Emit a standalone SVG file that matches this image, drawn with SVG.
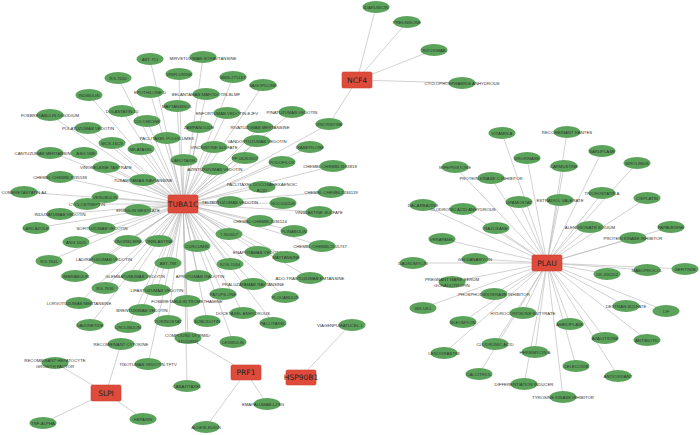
<svg xmlns="http://www.w3.org/2000/svg" width="700" height="435" viewBox="0 0 700 435">
<style>
.e line{stroke:#b4b4b4;stroke-width:0.6}
.n ellipse{fill:#5ba35a}
.n text{font-family:"Liberation Sans",Arial,sans-serif;font-size:4.3px;fill:#333;text-anchor:middle;dominant-baseline:central}
.h rect{fill:#df4b3b;stroke:#c94033;stroke-width:0.6}
.h text{font-family:"DejaVu Sans",sans-serif;font-size:7.5px;fill:#222;text-anchor:middle;dominant-baseline:central}
</style>
<rect width="700" height="435" fill="#fff"/>
<g class="e">
<g transform="translate(183,204)">
<line x1="0" y1="0" x2="-33" y2="-145"/><line x1="0" y1="0" x2="20" y2="-147"/><line x1="0" y1="0" x2="-4" y2="-130"/><line x1="0" y1="0" x2="50" y2="-127"/><line x1="0" y1="0" x2="80" y2="-119"/><line x1="0" y1="0" x2="-65" y2="-126"/><line x1="0" y1="0" x2="-94" y2="-109"/><line x1="0" y1="0" x2="-33" y2="-112"/><line x1="0" y1="0" x2="23" y2="-110"/><line x1="0" y1="0" x2="-6" y2="-98"/><line x1="0" y1="0" x2="-61" y2="-93"/><line x1="0" y1="0" x2="44" y2="-91"/><line x1="0" y1="0" x2="109" y2="-92"/><line x1="0" y1="0" x2="-133" y2="-89"/><line x1="0" y1="0" x2="-36" y2="-83"/><line x1="0" y1="0" x2="16" y2="-77"/><line x1="0" y1="0" x2="77" y2="-77"/><line x1="0" y1="0" x2="-95" y2="-76"/><line x1="0" y1="0" x2="-16" y2="-66"/><line x1="0" y1="0" x2="74" y2="-63"/><line x1="0" y1="0" x2="-71" y2="-61"/><line x1="0" y1="0" x2="127" y2="-57"/><line x1="0" y1="0" x2="31" y2="-57"/><line x1="0" y1="0" x2="-42" y2="-55"/><line x1="0" y1="0" x2="-130" y2="-51"/><line x1="0" y1="0" x2="-100" y2="-51"/><line x1="0" y1="0" x2="1" y2="-44"/><line x1="0" y1="0" x2="62" y2="-46"/><line x1="0" y1="0" x2="99" y2="-42"/><line x1="0" y1="0" x2="150" y2="-38"/><line x1="0" y1="0" x2="-77" y2="-37"/><line x1="0" y1="0" x2="32" y2="-35"/><line x1="0" y1="0" x2="-123" y2="-27"/><line x1="0" y1="0" x2="-40" y2="-24"/><line x1="0" y1="0" x2="79" y2="-17"/><line x1="0" y1="0" x2="148" y2="-12"/><line x1="0" y1="0" x2="-159" y2="-12"/><line x1="0" y1="0" x2="-78" y2="-7"/><line x1="0" y1="0" x2="47" y2="-2"/><line x1="0" y1="0" x2="100" y2="-1"/><line x1="0" y1="0" x2="-96" y2="0"/><line x1="0" y1="0" x2="-45" y2="6"/><line x1="0" y1="0" x2="136" y2="8"/><line x1="0" y1="0" x2="-123" y2="10"/><line x1="0" y1="0" x2="77" y2="17"/><line x1="0" y1="0" x2="-147" y2="24"/><line x1="0" y1="0" x2="-81" y2="24"/><line x1="0" y1="0" x2="111" y2="27"/><line x1="0" y1="0" x2="46" y2="30"/><line x1="0" y1="0" x2="-107" y2="38"/><line x1="0" y1="0" x2="-55" y2="37"/><line x1="0" y1="0" x2="-24" y2="37"/><line x1="0" y1="0" x2="14" y2="42"/><line x1="0" y1="0" x2="139" y2="42"/><line x1="0" y1="0" x2="75" y2="48"/><line x1="0" y1="0" x2="103" y2="53"/><line x1="0" y1="0" x2="-134" y2="57"/><line x1="0" y1="0" x2="-79" y2="55"/><line x1="0" y1="0" x2="-15" y2="59"/><line x1="0" y1="0" x2="47" y2="60"/><line x1="0" y1="0" x2="-108" y2="72"/><line x1="0" y1="0" x2="-48" y2="72"/><line x1="0" y1="0" x2="15" y2="72"/><line x1="0" y1="0" x2="127" y2="74"/><line x1="0" y1="0" x2="70" y2="80"/><line x1="0" y1="0" x2="-78" y2="84"/><line x1="0" y1="0" x2="-26" y2="86"/><line x1="0" y1="0" x2="40" y2="90"/><line x1="0" y1="0" x2="102" y2="93"/><line x1="0" y1="0" x2="4" y2="97"/><line x1="0" y1="0" x2="-104" y2="99"/><line x1="0" y1="0" x2="-41" y2="106"/><line x1="0" y1="0" x2="60" y2="109"/><line x1="0" y1="0" x2="-15" y2="117"/><line x1="0" y1="0" x2="24" y2="117"/><line x1="0" y1="0" x2="90" y2="119"/><line x1="0" y1="0" x2="-93" y2="121"/><line x1="0" y1="0" x2="-55" y2="123"/><line x1="0" y1="0" x2="5" y2="134"/><line x1="0" y1="0" x2="50" y2="138"/><line x1="0" y1="0" x2="-35" y2="160"/><line x1="0" y1="0" x2="4" y2="182"/><line x1="0" y1="0" x2="146" y2="-80"/>
</g>
<g transform="translate(357,80)">
<line x1="0" y1="0" x2="19" y2="-73"/><line x1="0" y1="0" x2="50" y2="-58"/><line x1="0" y1="0" x2="77" y2="-30"/><line x1="0" y1="0" x2="105" y2="3"/><line x1="0" y1="0" x2="-28" y2="44"/>
</g>
<g transform="translate(547,263)">
<line x1="0" y1="0" x2="-45" y2="-130"/><line x1="0" y1="0" x2="20" y2="-131"/><line x1="0" y1="0" x2="-20" y2="-105"/><line x1="0" y1="0" x2="-92" y2="-96"/><line x1="0" y1="0" x2="17" y2="-97"/><line x1="0" y1="0" x2="-56" y2="-85"/><line x1="0" y1="0" x2="-28" y2="-61"/><line x1="0" y1="0" x2="13" y2="-63"/><line x1="0" y1="0" x2="-124" y2="-58"/><line x1="0" y1="0" x2="-84" y2="-54"/><line x1="0" y1="0" x2="-51" y2="-35"/><line x1="0" y1="0" x2="-105" y2="-24"/><line x1="0" y1="0" x2="-72" y2="-4"/><line x1="0" y1="0" x2="55" y2="-112"/><line x1="0" y1="0" x2="90" y2="-100"/><line x1="0" y1="0" x2="55" y2="-70"/><line x1="0" y1="0" x2="100" y2="-65"/><line x1="0" y1="0" x2="43" y2="-36"/><line x1="0" y1="0" x2="124" y2="-36"/><line x1="0" y1="0" x2="86" y2="-25"/><line x1="0" y1="0" x2="100" y2="7"/><line x1="0" y1="0" x2="138" y2="6"/><line x1="0" y1="0" x2="60" y2="11"/><line x1="0" y1="0" x2="-134" y2="0"/><line x1="0" y1="0" x2="-95" y2="19"/><line x1="0" y1="0" x2="-53" y2="31"/><line x1="0" y1="0" x2="-124" y2="45"/><line x1="0" y1="0" x2="79" y2="43"/><line x1="0" y1="0" x2="119" y2="48"/><line x1="0" y1="0" x2="-24" y2="50"/><line x1="0" y1="0" x2="-84" y2="59"/><line x1="0" y1="0" x2="23" y2="61"/><line x1="0" y1="0" x2="58" y2="75"/><line x1="0" y1="0" x2="100" y2="77"/><line x1="0" y1="0" x2="-52" y2="81"/><line x1="0" y1="0" x2="-103" y2="90"/><line x1="0" y1="0" x2="-12" y2="89"/><line x1="0" y1="0" x2="29" y2="103"/><line x1="0" y1="0" x2="-68" y2="111"/><line x1="0" y1="0" x2="71" y2="113"/><line x1="0" y1="0" x2="-23" y2="121"/><line x1="0" y1="0" x2="16" y2="134"/>
</g>
<line x1="106" y1="393" x2="121" y2="344"/><line x1="106" y1="393" x2="55" y2="363"/><line x1="106" y1="393" x2="43" y2="423"/><line x1="106" y1="393" x2="143" y2="419"/>
<line x1="246" y1="372" x2="188" y2="338"/><line x1="246" y1="372" x2="267" y2="404"/><line x1="246" y1="372" x2="206" y2="427"/>
<line x1="301" y1="377" x2="350" y2="325"/>
</g>
<g class="h">
<g id="TUBA1C"><rect x="168" y="195" width="30" height="18" rx="1.5"/><text x="183" y="204">TUBA1C</text></g>
<g id="NCF4"><rect x="342" y="72" width="30" height="16" rx="1.5"/><text x="357" y="80">NCF4</text></g>
<g id="PLAU"><rect x="532" y="255" width="30" height="16" rx="1.5"/><text x="547" y="263">PLAU</text></g>
<g id="SLPI"><rect x="91" y="385" width="30" height="16" rx="1.5"/><text x="106" y="393">SLPI</text></g>
<g id="PRF1"><rect x="231" y="365" width="30" height="15" rx="1.5"/><text x="246" y="372.5">PRF1</text></g>
<g id="HSP90B1"><rect x="286" y="370" width="30" height="15" rx="1.5"/><text x="301" y="377.5">HSP90B1</text></g>
</g>
<g class="n">
<g id="n1"><ellipse cx="150" cy="59" rx="13.5" ry="6"/><text x="150" y="59">ABT-751</text></g>
<g id="n2"><ellipse cx="203" cy="57" rx="13.5" ry="6"/><text x="203" y="58">MIRVETUXIMAB SORAVTANSINE</text></g>
<g id="n3"><ellipse cx="179" cy="74" rx="13.5" ry="6"/><text x="179" y="74">VINFLUNINE</text></g>
<g id="n4"><ellipse cx="233" cy="77" rx="13.5" ry="6"/><text x="233" y="77">BMS-275183</text></g>
<g id="n5"><ellipse cx="263" cy="85" rx="13.5" ry="6"/><text x="263" y="85">SAGOPILONE</text></g>
<g id="n6"><ellipse cx="118" cy="78" rx="13.5" ry="6"/><text x="118" y="78">RG-7600</text></g>
<g id="n7"><ellipse cx="89" cy="95" rx="13.5" ry="6"/><text x="89" y="95">INDIBULIN</text></g>
<g id="n8"><ellipse cx="150" cy="92" rx="13.5" ry="6"/><text x="150" y="92">EPOTHILONE D</text></g>
<g id="n9"><ellipse cx="206" cy="94" rx="13.5" ry="6"/><text x="206" y="94">BELANTAMAB MAFODOTIN-BLMF</text></g>
<g id="n10"><ellipse cx="177" cy="106" rx="13.5" ry="6"/><text x="177" y="106">MAYTANSINOL</text></g>
<g id="n11"><ellipse cx="122" cy="111" rx="13.5" ry="6"/><text x="122" y="111">DOLASTATIN-10</text></g>
<g id="n12"><ellipse cx="227" cy="113" rx="13.5" ry="6"/><text x="227" y="113">ENFORTUMAB VEDOTIN-EJFV</text></g>
<g id="n13"><ellipse cx="292" cy="112" rx="13.5" ry="6"/><text x="292" y="112">PINATUZUMAB VEDOTIN</text></g>
<g id="n14"><ellipse cx="50" cy="115" rx="13.5" ry="6"/><text x="50" y="115">FOSBRETABULIN DISODIUM</text></g>
<g id="n15"><ellipse cx="147" cy="121" rx="13.5" ry="6"/><text x="147" y="121">COLCHICINE</text></g>
<g id="n16"><ellipse cx="199" cy="127" rx="13.5" ry="6"/><text x="199" y="127">ZAMPANOLIDE</text></g>
<g id="n17"><ellipse cx="260" cy="127" rx="13.5" ry="6"/><text x="260" y="127">RIVATUZUMAB MERTANSINE</text></g>
<g id="n18"><ellipse cx="88" cy="128" rx="13.5" ry="6"/><text x="88" y="128">POLATUZUMAB VEDOTIN</text></g>
<g id="n19"><ellipse cx="167" cy="138" rx="13.5" ry="6"/><text x="167" y="138">PACLITAXEL POLIGLUMEX</text></g>
<g id="n20"><ellipse cx="257" cy="141" rx="13.5" ry="6"/><text x="257" y="141">VANDORTUZUMAB VEDOTIN</text></g>
<g id="n21"><ellipse cx="112" cy="143" rx="13.5" ry="6"/><text x="112" y="143">MCS-16C9</text></g>
<g id="n22"><ellipse cx="310" cy="147" rx="13.5" ry="6"/><text x="310" y="147">IXABEPILONE</text></g>
<g id="n23"><ellipse cx="214" cy="147" rx="13.5" ry="6"/><text x="214" y="147">VINCRISTINE SULFATE</text></g>
<g id="n24"><ellipse cx="141" cy="149" rx="13.5" ry="6"/><text x="141" y="149">MILATAXEL</text></g>
<g id="n25"><ellipse cx="50" cy="153" rx="13.5" ry="6"/><text x="44" y="153">CANTUZUMAB MERTANSINE</text></g>
<g id="n26"><ellipse cx="84" cy="153" rx="13.5" ry="6"/><text x="86" y="153">ASG-5ME</text></g>
<g id="n27"><ellipse cx="184" cy="160" rx="13.5" ry="6"/><text x="184" y="160">LAROTAXEL</text></g>
<g id="n28"><ellipse cx="245" cy="158" rx="13.5" ry="6"/><text x="245" y="158">PF-06263507</text></g>
<g id="n29"><ellipse cx="282" cy="162" rx="13.5" ry="6"/><text x="282" y="162">PODOFILOX</text></g>
<g id="n30"><ellipse cx="333" cy="166" rx="13.5" ry="6"/><text x="330" y="166">CHEMBL:CHEMBL3183818</text></g>
<g id="n31"><ellipse cx="106" cy="167" rx="13.5" ry="6"/><text x="106" y="167">VINORELBINE TARTRATE</text></g>
<g id="n32"><ellipse cx="215" cy="169" rx="13.5" ry="6"/><text x="215" y="169">AZINTUXIZUMAB VEDOTIN</text></g>
<g id="n33"><ellipse cx="60" cy="177" rx="13.5" ry="6"/><text x="60" y="177">CHEMBL:CHEMBL3335538</text></g>
<g id="n34"><ellipse cx="143" cy="180" rx="13.5" ry="6"/><text x="143" y="180">TUSAMITAMAB RAVTANSINE</text></g>
<g id="n35"><ellipse cx="262" cy="187" rx="13.5" ry="6"/><text x="262" y="184.5">PACLITAXEL DOCOSAHEXAENOIC</text><text x="262" y="190">ACID</text></g>
<g id="n36"><ellipse cx="331" cy="192" rx="13.5" ry="6"/><text x="331" y="192">CHEMBL:CHEMBL2036119</text></g>
<g id="n37"><ellipse cx="24" cy="192" rx="13.5" ry="6"/><text x="24" y="192">COMBRETASTATIN A4</text></g>
<g id="n38"><ellipse cx="105" cy="197" rx="13.5" ry="6"/><text x="105" y="197">VERUBULIN</text></g>
<g id="n39"><ellipse cx="230" cy="202" rx="13.5" ry="6"/><text x="230" y="202">TELISOTUZUMAB VEDOTIN</text></g>
<g id="n40"><ellipse cx="283" cy="203" rx="13.5" ry="6"/><text x="283" y="203">NOC004208</text></g>
<g id="n41"><ellipse cx="87" cy="204" rx="13.5" ry="6"/><text x="87" y="204">CYCLOSTREPTIN</text></g>
<g id="n42"><ellipse cx="138" cy="210" rx="13.5" ry="6"/><text x="138" y="210">ERIBULIN MESYLATE</text></g>
<g id="n43"><ellipse cx="319" cy="212" rx="13.5" ry="6"/><text x="319" y="212">VINBLASTINE SULFATE</text></g>
<g id="n44"><ellipse cx="60" cy="214" rx="13.5" ry="6"/><text x="60" y="214">INDUSATUMAB VEDOTIN</text></g>
<g id="n45"><ellipse cx="260" cy="221" rx="13.5" ry="6"/><text x="260" y="221">CHEMBL:CHEMBL2036124</text></g>
<g id="n46"><ellipse cx="36" cy="228" rx="13.5" ry="6"/><text x="36" y="228">LARCAZOLE</text></g>
<g id="n47"><ellipse cx="102" cy="228" rx="13.5" ry="6"/><text x="102" y="228">SOFITUZUMAB VEDOTIN</text></g>
<g id="n48"><ellipse cx="294" cy="231" rx="13.5" ry="6"/><text x="294" y="231">PLINABULIN</text></g>
<g id="n49"><ellipse cx="229" cy="234" rx="13.5" ry="6"/><text x="229" y="234">T-900607</text></g>
<g id="n50"><ellipse cx="76" cy="242" rx="13.5" ry="6"/><text x="76" y="242">ANG 1005</text></g>
<g id="n51"><ellipse cx="128" cy="241" rx="13.5" ry="6"/><text x="128" y="241">VINORELBINE</text></g>
<g id="n52"><ellipse cx="159" cy="241" rx="13.5" ry="6"/><text x="159" y="241">VINBLASTINE</text></g>
<g id="n53"><ellipse cx="197" cy="246" rx="13.5" ry="6"/><text x="197" y="246">CURCUMIN</text></g>
<g id="n54"><ellipse cx="322" cy="246" rx="13.5" ry="6"/><text x="320" y="246">CHEMBL:CHEMBL2105737</text></g>
<g id="n55"><ellipse cx="258" cy="252" rx="13.5" ry="6"/><text x="258" y="252">ENAPOTAMAB VEDOTIN</text></g>
<g id="n56"><ellipse cx="286" cy="257" rx="13.5" ry="6"/><text x="286" y="257">MAYTANSINE</text></g>
<g id="n57"><ellipse cx="49" cy="261" rx="13.5" ry="6"/><text x="49" y="261">RG-7841</text></g>
<g id="n58"><ellipse cx="104" cy="259" rx="13.5" ry="6"/><text x="104" y="259">LADIRATUZUMAB VEDOTIN</text></g>
<g id="n59"><ellipse cx="168" cy="263" rx="13.5" ry="6"/><text x="168" y="263">ABT-788</text></g>
<g id="n60"><ellipse cx="230" cy="264" rx="13.5" ry="6"/><text x="230" y="264">KOS-1584</text></g>
<g id="n61"><ellipse cx="75" cy="276" rx="13.5" ry="6"/><text x="75" y="276">OMBRABULIN</text></g>
<g id="n62"><ellipse cx="135" cy="276" rx="13.5" ry="6"/><text x="135" y="276">GLEMBATUMUMAB VEDOTIN</text></g>
<g id="n63"><ellipse cx="198" cy="276" rx="13.5" ry="6"/><text x="200" y="276">APRUTUMAB IXADOTIN</text></g>
<g id="n64"><ellipse cx="310" cy="278" rx="13.5" ry="6"/><text x="310" y="278">ADO-TRASTUZUMAB EMTANSINE</text></g>
<g id="n65"><ellipse cx="253" cy="284" rx="13.5" ry="6"/><text x="253" y="284">PRALUZATAMAB RAVTANSINE</text></g>
<g id="n66"><ellipse cx="105" cy="288" rx="13.5" ry="6"/><text x="105" y="288">RG-7636</text></g>
<g id="n67"><ellipse cx="157" cy="290" rx="13.5" ry="6"/><text x="157" y="290">LIFASTUZUMAB VEDOTIN</text></g>
<g id="n68"><ellipse cx="223" cy="294" rx="13.5" ry="6"/><text x="223" y="294">PATUPILONE</text></g>
<g id="n69"><ellipse cx="285" cy="297" rx="13.5" ry="6"/><text x="285" y="297">PLOCABULIN</text></g>
<g id="n70"><ellipse cx="187" cy="301" rx="13.5" ry="6"/><text x="187" y="301">FOSBRETABULIN TROMETHAMINE</text></g>
<g id="n71"><ellipse cx="79" cy="303" rx="13.5" ry="6"/><text x="79" y="303">LORVOTUZUMAB MERTANSINE</text></g>
<g id="n72"><ellipse cx="142" cy="310" rx="13.5" ry="6"/><text x="142" y="310">BRENTUXIMAB VEDOTIN</text></g>
<g id="n73"><ellipse cx="243" cy="313" rx="13.5" ry="6"/><text x="243" y="313">DOCETAXEL ANHYDROUS</text></g>
<g id="n74"><ellipse cx="168" cy="321" rx="13.5" ry="6"/><text x="168" y="321">VORINOSTAT</text></g>
<g id="n75"><ellipse cx="207" cy="321" rx="13.5" ry="6"/><text x="207" y="321">SOBLIDOTIN</text></g>
<g id="n76"><ellipse cx="273" cy="323" rx="13.5" ry="6"/><text x="273" y="323">PACLITAXEL</text></g>
<g id="n77"><ellipse cx="90" cy="325" rx="13.5" ry="6"/><text x="90" y="325">DAVUNETIDE</text></g>
<g id="n78"><ellipse cx="128" cy="327" rx="13.5" ry="6"/><text x="128" y="327">CROLIBULIN</text></g>
<g id="n79"><ellipse cx="188" cy="338" rx="13.5" ry="6"/><text x="188" y="335.5">COMPOUND 18 [PMID:</text><text x="188" y="341">31525968]</text></g>
<g id="n80"><ellipse cx="233" cy="342" rx="13.5" ry="6"/><text x="233" y="342">LEXIBULIN</text></g>
<g id="n81"><ellipse cx="148" cy="364" rx="13.5" ry="6"/><text x="148" y="364">TISOTUMAB VEDOTIN-TFTV</text></g>
<g id="n82"><ellipse cx="187" cy="386" rx="13.5" ry="6"/><text x="187" y="386">CABAZITAXEL</text></g>
<g id="n83"><ellipse cx="329" cy="124" rx="13.5" ry="6"/><text x="329" y="124">VINCRISTINE</text></g>
<g id="n84"><ellipse cx="376" cy="7" rx="13.5" ry="6"/><text x="376" y="7">IDARUBICIN</text></g>
<g id="n85"><ellipse cx="407" cy="22" rx="13.5" ry="6"/><text x="407" y="22">PREDNISONE</text></g>
<g id="n86"><ellipse cx="434" cy="50" rx="13.5" ry="6"/><text x="434" y="50">RITUXIMAB</text></g>
<g id="n87"><ellipse cx="462" cy="83" rx="13.5" ry="6"/><text x="462" y="83">CYCLOPHOSPHAMIDE ANHYDROUS</text></g>
<g id="n88"><ellipse cx="121" cy="344" rx="13.5" ry="6"/><text x="121" y="344">RECOMBINANT CYTOKINE</text></g>
<g id="n89"><ellipse cx="55" cy="363" rx="13.5" ry="6"/><text x="55" y="360.5">RECOMBINANT HEPATOCYTE</text><text x="55" y="366">GROWTH FACTOR</text></g>
<g id="n90"><ellipse cx="43" cy="423" rx="13.5" ry="6"/><text x="43" y="423">TNF-ALPHA</text></g>
<g id="n91"><ellipse cx="143" cy="419" rx="13.5" ry="6"/><text x="143" y="419">HEPARIN</text></g>
<g id="n92"><ellipse cx="267" cy="404" rx="13.5" ry="6"/><text x="263" y="404">EMAPALUMAB-LZSG</text></g>
<g id="n93"><ellipse cx="206" cy="427" rx="13.5" ry="6"/><text x="206" y="427">ALDESLEUKIN</text></g>
<g id="n94"><ellipse cx="352" cy="325" rx="13.5" ry="6"/><text x="340" y="325">VIAGENPUMATUCEL-L</text></g>
<g id="p1"><ellipse cx="502" cy="133" rx="13.5" ry="6"/><text x="502" y="133">VITAMIN A</text></g>
<g id="p2"><ellipse cx="567" cy="132" rx="13.5" ry="6"/><text x="567" y="132">RECOMBINANT RANTES</text></g>
<g id="p3"><ellipse cx="527" cy="158" rx="13.5" ry="6"/><text x="527" y="158">UROKINASE</text></g>
<g id="p4"><ellipse cx="455" cy="167" rx="13.5" ry="6"/><text x="455" y="167">MIFEPRISTONE</text></g>
<g id="p5"><ellipse cx="564" cy="166" rx="13.5" ry="6"/><text x="564" y="166">CARMUSTINE</text></g>
<g id="p6"><ellipse cx="491" cy="178" rx="13.5" ry="6"/><text x="491" y="178">PROTEIN KINASE C INHIBITOR</text></g>
<g id="p7"><ellipse cx="519" cy="202" rx="13.5" ry="6"/><text x="519" y="202">UPAMOSTAT</text></g>
<g id="p8"><ellipse cx="560" cy="200" rx="13.5" ry="6"/><text x="560" y="200">ESTRADIOL VALERATE</text></g>
<g id="p9"><ellipse cx="423" cy="205" rx="13.5" ry="6"/><text x="423" y="205">DACARBAZINE</text></g>
<g id="p10"><ellipse cx="463" cy="209" rx="13.5" ry="6"/><text x="463" y="209">CLODRONIC ACID ANHYDROUS</text></g>
<g id="p11"><ellipse cx="496" cy="228" rx="13.5" ry="6"/><text x="496" y="228">RAZOXANE</text></g>
<g id="p12"><ellipse cx="442" cy="239" rx="13.5" ry="6"/><text x="442" y="239">VERAPAMIL</text></g>
<g id="p13"><ellipse cx="475" cy="259" rx="13.5" ry="6"/><text x="475" y="259">GELDANAMYCIN</text></g>
<g id="p14"><ellipse cx="602" cy="151" rx="13.5" ry="6"/><text x="602" y="151">SARUPLASE</text></g>
<g id="p15"><ellipse cx="637" cy="163" rx="13.5" ry="6"/><text x="637" y="163">SIROLIMUS</text></g>
<g id="p16"><ellipse cx="602" cy="193" rx="13.5" ry="6"/><text x="602" y="193">TRICHOSTATIN A</text></g>
<g id="p17"><ellipse cx="647" cy="198" rx="13.5" ry="6"/><text x="647" y="198">CISPLATIN</text></g>
<g id="p18"><ellipse cx="590" cy="227" rx="13.5" ry="6"/><text x="590" y="227">ALENDRONATE SODIUM</text></g>
<g id="p19"><ellipse cx="671" cy="227" rx="13.5" ry="6"/><text x="671" y="227">PAPAVERINE</text></g>
<g id="p20"><ellipse cx="633" cy="238" rx="13.5" ry="6"/><text x="633" y="238">PROTEIN KINASE INHIBITOR</text></g>
<g id="p21"><ellipse cx="647" cy="270" rx="13.5" ry="6"/><text x="647" y="270">MASOPROCOL</text></g>
<g id="p22"><ellipse cx="685" cy="269" rx="13.5" ry="6"/><text x="685" y="269">GEFITINIB</text></g>
<g id="p23"><ellipse cx="607" cy="274" rx="13.5" ry="6"/><text x="607" y="274">UK-356202</text></g>
<g id="p24"><ellipse cx="413" cy="263" rx="13.5" ry="6"/><text x="413" y="263">DAUNOMYCIN</text></g>
<g id="p25"><ellipse cx="452" cy="282" rx="13.5" ry="6"/><text x="452" y="279.5">PREGNANT MARE SERUM</text><text x="452" y="285">GONADOTROPIN</text></g>
<g id="p26"><ellipse cx="494" cy="294" rx="13.5" ry="6"/><text x="494" y="294">PHOSPHODIESTERASE INHIBITOR</text></g>
<g id="p27"><ellipse cx="423" cy="308" rx="13.5" ry="6"/><text x="423" y="308">WX-UK1</text></g>
<g id="p28"><ellipse cx="626" cy="306" rx="13.5" ry="6"/><text x="626" y="306">DEXTRAN SULFATE</text></g>
<g id="p29"><ellipse cx="666" cy="311" rx="13.5" ry="6"/><text x="666" y="311">LIF</text></g>
<g id="p30"><ellipse cx="523" cy="313" rx="13.5" ry="6"/><text x="523" y="313">HYDROCORTISONE BUTYRATE</text></g>
<g id="p31"><ellipse cx="463" cy="322" rx="13.5" ry="6"/><text x="463" y="322">BLEOMYCIN</text></g>
<g id="p32"><ellipse cx="570" cy="324" rx="13.5" ry="6"/><text x="570" y="324">AMEDIPLASE</text></g>
<g id="p33"><ellipse cx="605" cy="338" rx="13.5" ry="6"/><text x="605" y="338">AZACITIDINE</text></g>
<g id="p34"><ellipse cx="647" cy="340" rx="13.5" ry="6"/><text x="647" y="340">ANTIBIOTIC</text></g>
<g id="p35"><ellipse cx="495" cy="344" rx="13.5" ry="6"/><text x="495" y="344">CLODRONIC ACID</text></g>
<g id="p36"><ellipse cx="444" cy="353" rx="13.5" ry="6"/><text x="444" y="353">LENOGRASTIM</text></g>
<g id="p37"><ellipse cx="535" cy="352" rx="13.5" ry="6"/><text x="535" y="352">HERBIMYCIN A</text></g>
<g id="p38"><ellipse cx="576" cy="366" rx="13.5" ry="6"/><text x="576" y="366">CELECOXIB</text></g>
<g id="p39"><ellipse cx="479" cy="374" rx="13.5" ry="6"/><text x="479" y="374">CALCITRIOL</text></g>
<g id="p40"><ellipse cx="618" cy="376" rx="13.5" ry="6"/><text x="618" y="376">ANTIOXIDANT</text></g>
<g id="p41"><ellipse cx="524" cy="384" rx="13.5" ry="6"/><text x="524" y="384">DIFFERENTIATION INDUCER</text></g>
<g id="p42"><ellipse cx="563" cy="397" rx="13.5" ry="6"/><text x="563" y="397">TYROSINE KINASE INHIBITOR</text></g>
</g>
</svg>
